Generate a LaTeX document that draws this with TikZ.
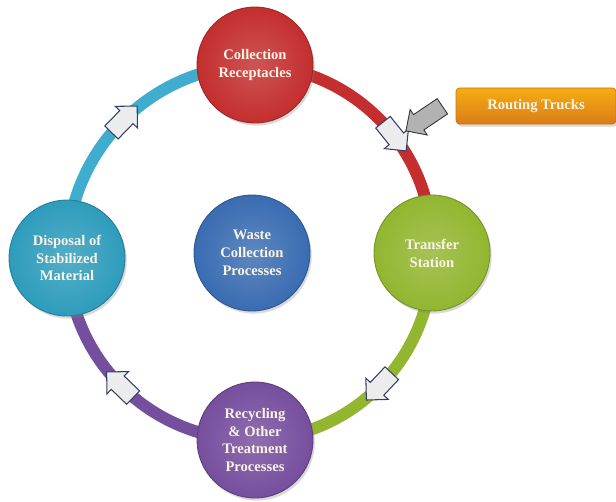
\documentclass[tikz,border=0pt]{standalone}
\usepackage{fontspec}
\setmainfont{Liberation Serif}
\usetikzlibrary{shapes.arrows,shadows,backgrounds}

\definecolor{collred}{RGB}{196,46,46}
\definecolor{transgreen}{RGB}{146,182,48}
\definecolor{recypurple}{RGB}{118,78,158}
\definecolor{dispteal}{RGB}{46,156,188}
\definecolor{ringteal}{RGB}{64,172,206}
\definecolor{wasteblue}{RGB}{58,108,178}
\definecolor{truckorange}{RGB}{242,138,28}
\definecolor{textcream}{RGB}{250,244,228}
\definecolor{arrownavy}{RGB}{52,62,104}

\tikzset{
  stage/.style={circle, minimum size=66pt, inner sep=0pt, align=center,
    text=textcream, font=\bfseries\fontsize{8.3}{10.2}\selectfont,
    draw=#1!80!black, line width=.5pt, inner color=#1!82!white, outer color=#1,
    drop shadow={opacity=.3, shadow xshift=1pt, shadow yshift=-1.5pt}},
  ring/.style={draw=#1, line width=6.8pt},
  flowarrow/.style={single arrow, sloped, allow upside down, draw=arrownavy, fill=gray!15,
    line width=.6pt, inner sep=5pt, minimum height=21pt,
    single arrow head extend=3.5pt},
  truckarrow/.style={single arrow, draw=gray!40!black, fill=gray!60,
    line width=.5pt, inner sep=5pt, minimum height=25pt,
    single arrow head extend=3.5pt},
  truckbox/.style={rounded corners=2pt, minimum width=91pt, minimum height=20.5pt,
    top color=truckorange!70!yellow, bottom color=truckorange!90!black,
    draw=truckorange!85!black, text=textcream,
    font=\bfseries\fontsize{8.3}{10.2}\selectfont,
    drop shadow={opacity=.3, shadow xshift=1pt, shadow yshift=-1.5pt}}
}

\begin{document}
\begin{tikzpicture}[x=0.02cm,y=-0.02cm]
\useasboundingbox (0,0) rectangle (616,501);

\node[stage=collred] (coll) at (255,65) {Collection\\Receptacles};
\node[stage=transgreen] (trans) at (432,253) {Transfer\\Station};
\node[stage=recypurple] (recy) at (255,440) {Recycling\\\& Other\\Treatment\\Processes};
\node[stage=dispteal] (disp) at (67,258) {Disposal of\\Stabilized\\Material};
\node[stage=wasteblue] (waste) at (252,253) {Waste\\Collection\\Processes};

\begin{scope}[on background layer]
\draw[ring=collred] (coll.center) to[bend left=45] node[flowarrow, pos=.55] (arrA) {} (trans.center);
\draw[ring=transgreen] (trans.center) to[bend left=45] node[flowarrow] (arrB) {} (recy.center);
\draw[ring=recypurple] (recy.center) to[bend left=45] node[flowarrow] (arrC) {} (disp.center);
\draw[ring=ringteal] (disp.center) to[bend left=45] node[flowarrow] (arrD) {} (coll.center);
\end{scope}

\node[truckbox] (routing) at (536,106) {Routing Trucks};
\node[truckarrow, rotate=214] (truckarr) at (428,116) {};
\end{tikzpicture}
\end{document}
